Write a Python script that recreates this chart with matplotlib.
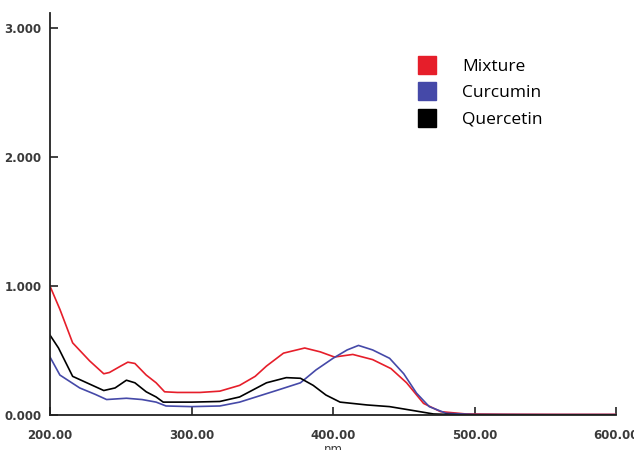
import numpy as np
import matplotlib
matplotlib.use("Agg")
import matplotlib.pyplot as plt
from matplotlib.lines import Line2D
from matplotlib.ticker import FormatStrFormatter

# wavelength (nm) and absorbance
mix_x = [200, 207, 216, 228, 238, 242, 250, 255, 260, 268, 275, 281, 290, 306, 320, 334, 345, 353,
         365, 380, 391, 401, 414, 428, 441, 452, 464, 476, 494, 520, 560, 600]
mix_y = [1.00, 0.82, 0.56, 0.42, 0.32, 0.33, 0.38, 0.41, 0.40, 0.31, 0.25, 0.18, 0.175, 0.175, 0.185,
         0.23, 0.30, 0.38, 0.48, 0.52, 0.49, 0.45, 0.47, 0.43, 0.36, 0.25, 0.09, 0.026, 0.008, 0.006,
         0.005, 0.005]

cur_x = [200, 207, 221, 232, 240, 254, 265, 275, 282, 300, 320, 334, 360, 377, 388, 400, 410, 418,
         428, 440, 450, 459, 468, 480, 500, 550, 600]
cur_y = [0.45, 0.31, 0.21, 0.16, 0.12, 0.13, 0.12, 0.10, 0.07, 0.065, 0.07, 0.10, 0.19, 0.25, 0.35,
         0.44, 0.505, 0.54, 0.505, 0.44, 0.32, 0.17, 0.065, 0.013, 0.004, 0.003, 0.003]

que_x = [200, 206, 216, 228, 238, 246, 254, 260, 268, 275, 280, 300, 320, 334, 353, 367, 377, 386,
         395, 405, 424, 440, 457, 471, 490, 550, 600]
que_y = [0.62, 0.52, 0.30, 0.24, 0.19, 0.21, 0.27, 0.25, 0.18, 0.14, 0.10, 0.10, 0.105, 0.14, 0.25,
         0.29, 0.285, 0.23, 0.155, 0.10, 0.078, 0.065, 0.034, 0.008, 0.002, 0.001, 0.001]

labels = ["Mixture", "Curcumin", "Quercetin"]
colors = ["#e61e2a", "#4549a8", "#000000"]

fig = plt.figure(figsize=(6.34, 4.5), dpi=100)
ax = fig.add_axes([50 / 634, 1 - 415 / 450, 566 / 634, 402 / 450])

ax.plot(mix_x, mix_y, color=colors[0], lw=1.2)
ax.plot(cur_x, cur_y, color=colors[1], lw=1.2)
ax.plot(que_x, que_y, color=colors[2], lw=1.2)

ax.set_xlim(200, 600)
ax.set_ylim(0, 3.12)
ax.set_xticks([200, 300, 400, 500, 600])
ax.set_yticks([0, 1, 2, 3])
ax.xaxis.set_major_formatter(FormatStrFormatter("%.2f"))
ax.yaxis.set_major_formatter(FormatStrFormatter("%.3f"))

for s in ["top", "right"]:
    ax.spines[s].set_visible(False)
for s in ["left", "bottom"]:
    ax.spines[s].set_linewidth(1.3)
    ax.spines[s].set_color("#222222")

ax.tick_params(direction="in", length=6, width=1.2, colors="#222222", labelsize=8.5,
               labelcolor="#3a3a3a")
ax.tick_params(axis="y", pad=6)
ax.tick_params(axis="x", pad=10)
for lab in ax.get_xticklabels() + ax.get_yticklabels():
    lab.set_fontweight("bold")
    lab.set_family("DejaVu Sans")

ax.set_xlabel("nm", fontsize=8.5, color="#3a3a3a", labelpad=1, family="DejaVu Sans")

handles = [Line2D([], [], marker="s", ls="none", markersize=13, color=c) for c in colors]
leg = ax.legend(handles, labels, loc="upper left", bbox_to_anchor=(401 / 634, 1 - 50 / 450),
                bbox_transform=fig.transFigure, frameon=False, prop={"family": "Open Sans", "size": 12.5},
                handletextpad=1.0, labelspacing=0.6, borderpad=0)

fig.savefig("out.png", dpi=100)
